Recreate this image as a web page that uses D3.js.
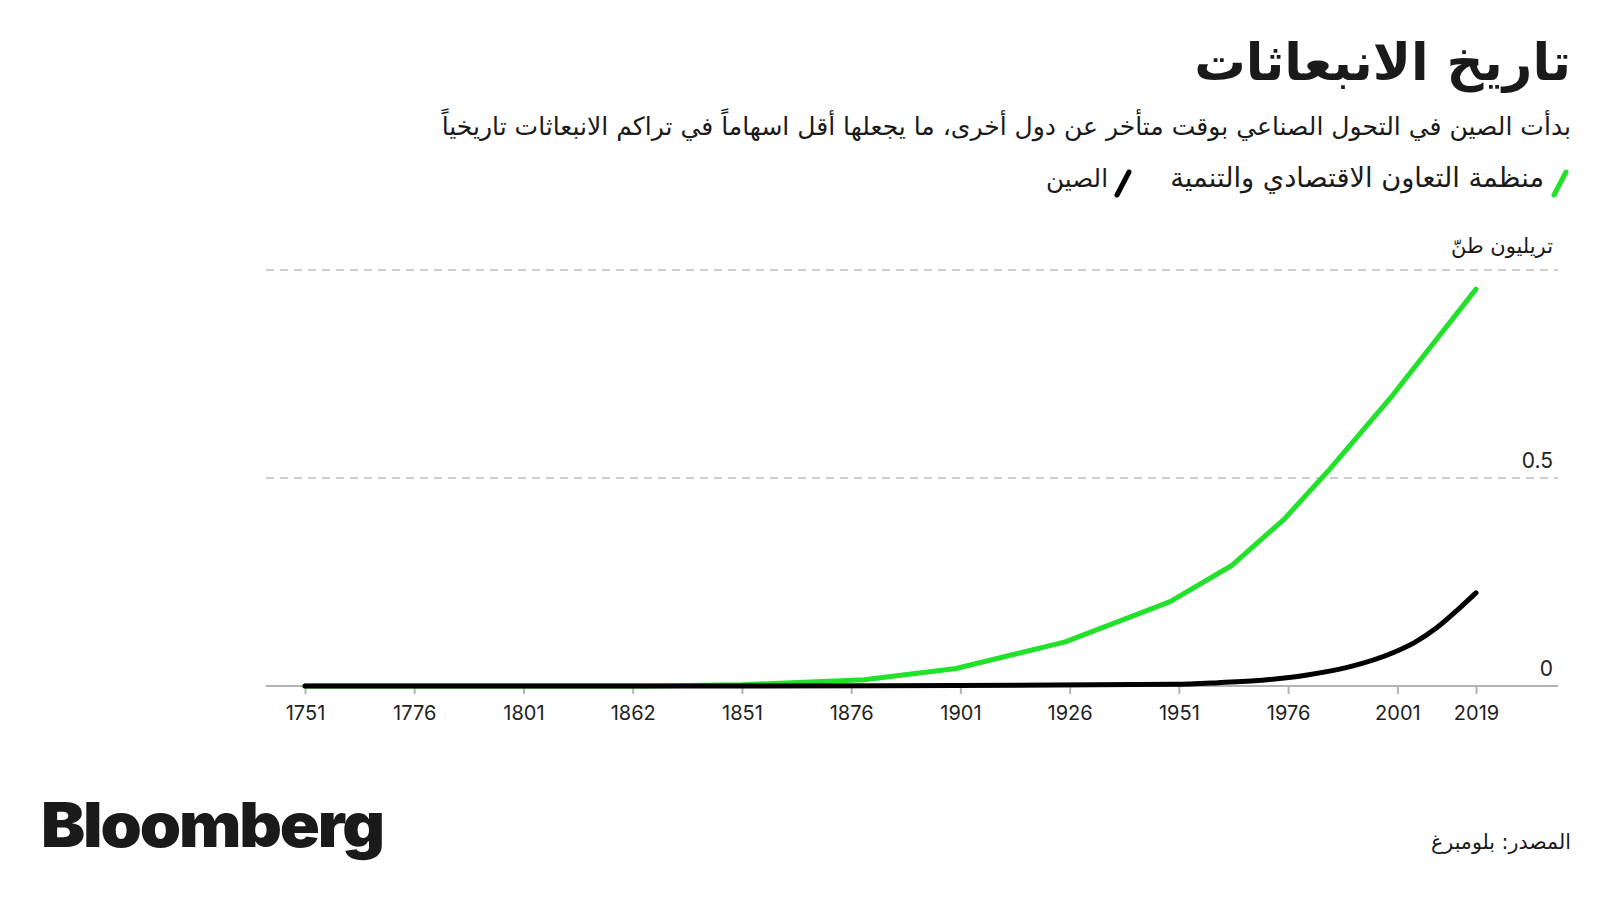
<!DOCTYPE html>
<html>
<head>
<meta charset="utf-8">
<script src="https://cdn.jsdelivr.net/npm/d3@7"></script>
<style>
  body { margin: 0; background: #fff; }
  svg { display: block; }
  .ar { font-family: "DejaVu Sans", sans-serif; }
  .num { font-family: "Inter", "Roboto", sans-serif; }
</style>
</head>
<body>
<svg id="chart" width="1600" height="900"></svg>
<script>
// cumulative CO2 emissions, trillion tonnes
const oecdYears  = [1751, 1800, 1830, 1851, 1879, 1900, 1925, 1949, 1963, 1975, 1985, 2000, 2019];
const oecdValues = [0, 0, 0, 0.003, 0.015, 0.042, 0.106, 0.203, 0.289, 0.400, 0.515, 0.700, 0.954];

const chinaYears  = [1751, 1850, 1900, 1950, 1960, 1970, 1980, 1990, 2000, 2005, 2010, 2015, 2019];
const chinaValues = [0, 0, 0.001, 0.004, 0.008, 0.014, 0.026, 0.046, 0.080, 0.105, 0.140, 0.185, 0.224];

// tick positions and the labels printed under them (source prints 1862 at the 1826 mark)
const tickYears  = [1751, 1776, 1801, 1826, 1851, 1876, 1901, 1926, 1951, 1976, 2001, 2019];
const tickLabels = ["1751", "1776", "1801", "1862", "1851", "1876", "1901", "1926", "1951", "1976", "2001", "2019"];
const gridValues = [0.5, 1];
const yLabels    = [0, 0.5];

const seriesNames = ["منظمة التعاون الاقتصادي والتنمية", "الصين"];
const title    = "تاريخ الانبعاثات";
const subtitle = "بدأت الصين في التحول الصناعي بوقت متأخر عن دول أخرى، ما يجعلها أقل اسهاماً في تراكم الانبعاثات تاريخياً";
const unit     = "تريليون طنّ";
const source   = "المصدر: بلومبرغ";

const GREEN = "#22e12b";
const svg = d3.select("#chart");

// scale text so that it spans a given width
function fitWidth(sel, w) {
  const len = sel.node().getComputedTextLength();
  const fs = parseFloat(sel.attr("font-size"));
  sel.attr("font-size", fs * w / len);
  return sel;
}

const x = d3.scaleLinear().domain([1751, 2019]).range([305, 1476]);
const y = d3.scaleLinear().domain([0, 1]).range([686, 270]);
const left = 266, right = 1558;

// titles
fitWidth(svg.append("text").attr("class", "ar").attr("x", 1571).attr("y", 80)
  .attr("text-anchor", "end").attr("font-size", 52).attr("font-weight", 700)
  .attr("fill", "#1a1a1a").text(title), 377);

fitWidth(svg.append("text").attr("class", "ar").attr("x", 1571).attr("y", 135)
  .attr("text-anchor", "end").attr("font-size", 22).attr("fill", "#1a1a1a")
  .text(subtitle), 1130);

// legend
const legend = [
  { name: seriesNames[0], color: GREEN, right: 1544, slash: 1566, w: 374 },
  { name: seriesNames[1], color: "#000", right: 1108, slash: 1129, w: 62 }
];
legend.forEach(d => {
  svg.append("line").attr("x1", d.slash).attr("y1", 172).attr("x2", d.slash - 12).attr("y2", 195)
    .attr("stroke", d.color).attr("stroke-width", 5).attr("stroke-linecap", "round");
  fitWidth(svg.append("text").attr("class", "ar").attr("x", d.right).attr("y", 187)
    .attr("text-anchor", "end").attr("font-size", 22).attr("fill", "#1a1a1a").text(d.name), d.w);
});

// unit label
fitWidth(svg.append("text").attr("class", "ar").attr("x", 1553).attr("y", 253)
  .attr("text-anchor", "end").attr("font-size", 21).attr("fill", "#1a1a1a").text(unit), 102);

// grid
svg.selectAll(".grid").data(gridValues).enter().append("line")
  .attr("x1", left).attr("x2", right).attr("y1", d => y(d)).attr("y2", d => y(d))
  .attr("stroke", "#bdbdbd").attr("stroke-width", 1.5).attr("stroke-dasharray", "8,6");

svg.selectAll(".ylab").data(yLabels).enter().append("text").attr("class", "num")
  .attr("x", 1553).attr("y", d => y(d) - 10).attr("text-anchor", "end")
  .attr("font-size", 21).attr("fill", "#222").text(d => d);

// x axis
const xAxis = d3.axisBottom(x).tickValues(tickYears).tickSize(8).tickPadding(12)
  .tickFormat((d, i) => tickLabels[i]);
const gx = svg.append("g").attr("transform", `translate(0,${y(0)})`).call(xAxis);
gx.select(".domain").remove();
gx.selectAll(".tick line").attr("stroke", "#b3b3b3").attr("stroke-width", 2);
gx.selectAll(".tick text").attr("class", "num").attr("font-size", 20).attr("fill", "#222");
svg.append("line").attr("x1", left).attr("x2", right).attr("y1", y(0)).attr("y2", y(0))
  .attr("stroke", "#b3b3b3").attr("stroke-width", 2);

// lines
const line = d3.line().x(d => x(d[0])).y(d => y(d[1]));
svg.append("path").datum(d3.zip(oecdYears, oecdValues))
  .attr("d", line.curve(d3.curveLinear)).attr("fill", "none")
  .attr("stroke", GREEN).attr("stroke-width", 5).attr("stroke-linecap", "round").attr("stroke-linejoin", "round");
svg.append("path").datum(d3.zip(chinaYears, chinaValues))
  .attr("d", line.curve(d3.curveMonotoneX)).attr("fill", "none")
  .attr("stroke", "#000").attr("stroke-width", 5).attr("stroke-linecap", "round").attr("stroke-linejoin", "round");

// footer
svg.append("text").attr("x", 41).attr("y", 847).attr("font-family", "Inter, 'Liberation Sans', sans-serif")
  .attr("font-weight", 900).attr("font-size", 62).attr("letter-spacing", -2).attr("fill", "#1a1a1a")
  .attr("textLength", 342).attr("lengthAdjust", "spacingAndGlyphs").text("Bloomberg");

fitWidth(svg.append("text").attr("class", "ar").attr("x", 1571).attr("y", 849)
  .attr("text-anchor", "end").attr("font-size", 20).attr("fill", "#1a1a1a").text(source), 140);
</script>
</body>
</html>
